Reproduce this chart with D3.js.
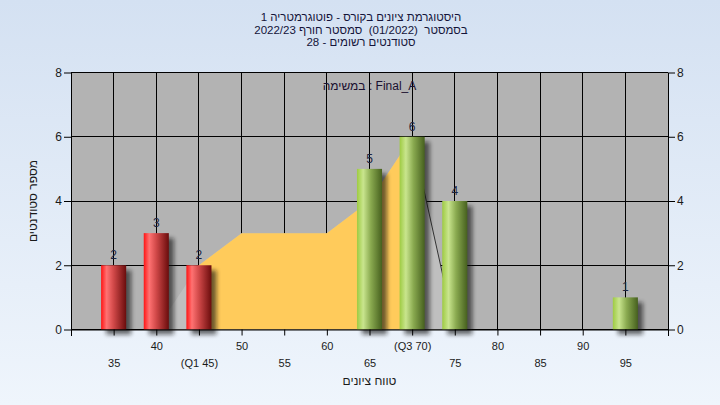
<!DOCTYPE html>
<html><head><meta charset="utf-8">
<script src="https://cdn.jsdelivr.net/npm/d3@7/dist/d3.min.js"></script>
<style>
html,body{margin:0;padding:0;background:#fff;}
svg{display:block;font-family:"Liberation Sans",Arial,"DejaVu Sans",sans-serif;}
.pre{white-space:pre;}
</style></head>
<body><svg id="chart" width="720" height="405"></svg>
<script>
// ---------- data ----------
const titleLines = [
  "היסטוגרמת ציונים בקורס - פוטוגרמטריה 1",
  "בסמסטר  (01/2022)  סמסטר חורף 2022/23",
  "סטודנטים רשומים - 28"
];
const legendText = "במשימה : Final_A";
const xTitle = "טווח ציונים";
const yTitle = "מספר סטודנטים";
const categories = [35, 40, 45, 50, 55, 60, 65, 70, 75, 80, 85, 90, 95];
const xTickLabels = ["35", "40", "(Q1 45)", "50", "55", "60", "65", "(Q3 70)", "75", "80", "85", "90", "95"];
const counts = [2, 3, 2, 0, 0, 0, 5, 6, 4, 0, 0, 0, 1];
const passGrade = 50;
const areaX = [40, 45, 50, 55, 60, 65, 70, 75];
const areaY = [0, 2, 3, 3, 3, 4, 6, 0];
const q1 = 45, q3 = 70;
const yTicks = [0, 2, 4, 6, 8];
const xDomain = [30, 100];
const yDomain = [0, 8];

// ---------- layout ----------
const W = 720, H = 405;
const L = 71, R = 668, T = 72.5, B = 329.5;
const svg = d3.select("#chart");
const defs = svg.append("defs");

const bg = defs.append("linearGradient").attr("id", "bg").attr("x1", 0).attr("y1", 0).attr("x2", 0).attr("y2", 1);
bg.append("stop").attr("offset", "0%").attr("stop-color", "#d4e1f2");
bg.append("stop").attr("offset", "100%").attr("stop-color", "#eff5fc");

const redG = defs.append("linearGradient").attr("id", "redG").attr("x1", 0).attr("x2", 1).attr("y1", 0).attr("y2", 0);
[["0%", "#ff1414"], ["22%", "#ff7272"], ["50%", "#d04848"], ["100%", "#6a0c0c"]]
  .forEach(s => redG.append("stop").attr("offset", s[0]).attr("stop-color", s[1]));
const greenG = defs.append("linearGradient").attr("id", "greenG").attr("x1", 0).attr("x2", 1).attr("y1", 0).attr("y2", 0);
[["0%", "#9ecb42"], ["25%", "#c9e58e"], ["55%", "#8aaa50"], ["100%", "#46601e"]]
  .forEach(s => greenG.append("stop").attr("offset", s[0]).attr("stop-color", s[1]));

const blur = defs.append("filter").attr("id", "shadow").attr("x", "-50%").attr("y", "-50%").attr("width", "200%").attr("height", "200%");
blur.append("feGaussianBlur").attr("stdDeviation", 2.2);

const clipOrange = defs.append("clipPath").attr("id", "clipOrange");

svg.append("rect").attr("width", W).attr("height", H).attr("fill", "url(#bg)");

const x = d3.scaleLinear().domain(xDomain).range([L, R]);
const y = d3.scaleLinear().domain(yDomain).range([B, T]);

// plot background
svg.append("rect").attr("x", L).attr("y", T).attr("width", R - L).attr("height", B - T).attr("fill", "#b3b3b3");

// grid
const grid = svg.append("g").attr("stroke", "#000").attr("stroke-width", 1).attr("shape-rendering", "crispEdges");
d3.range(xDomain[0], xDomain[1] + 1, 5).forEach(v => {
  grid.append("line").attr("x1", x(v)).attr("x2", x(v)).attr("y1", T).attr("y2", B);
});
yTicks.forEach(v => {
  grid.append("line").attr("x1", L).attr("x2", R).attr("y1", y(v)).attr("y2", y(v));
});

// area
const pts = areaX.map((v, i) => [v, areaY[i]]);
const area = d3.area().x(d => x(d[0])).y0(y(0)).y1(d => y(d[1]));
svg.append("path").datum(pts).attr("d", area).attr("fill", "#bfbfbf");
clipOrange.append("rect").attr("x", x(q1)).attr("y", T).attr("width", x(q3) - x(q1)).attr("height", B - T);
svg.append("path").datum(pts).attr("d", area).attr("fill", "#ffcb5b").attr("clip-path", "url(#clipOrange)");
const lastSeg = pts.filter(d => d[0] >= q3);
svg.append("path").datum(lastSeg).attr("d", d3.line().x(d => x(d[0])).y(d => y(d[1])))
  .attr("fill", "none").attr("stroke", "#333").attr("stroke-width", 1);

// bars
const barData = categories.map((c, i) => ({ c, v: counts[i] })).filter(d => d.v > 0);
const bw = x(categories[0] + 1.47) - x(categories[0] - 1.47);
const bars = svg.append("g");
bars.selectAll(".sh").data(barData).join("rect")
  .attr("x", d => x(d.c) - bw / 2 + 5).attr("y", d => y(d.v) + 5)
  .attr("width", bw).attr("height", d => y(0) - y(d.v))
  .attr("fill", "#111").attr("opacity", 0.6).attr("filter", "url(#shadow)");
bars.selectAll(".bar").data(barData).join("rect")
  .attr("x", d => x(d.c) - bw / 2).attr("y", d => y(d.v))
  .attr("width", bw).attr("height", d => y(0) - y(d.v))
  .attr("fill", d => d.c < passGrade ? "url(#redG)" : "url(#greenG)");
bars.selectAll(".lbl").data(barData).join("text")
  .attr("x", d => x(d.c)).attr("y", d => y(d.v) - 6)
  .attr("text-anchor", "middle").attr("font-size", 12).attr("fill", "#1c2440")
  .text(d => d.v);

// axes
const axisStyle = g => {
  g.selectAll("path.domain").attr("stroke", "#000");
  g.selectAll(".tick line").attr("stroke", "#000");
  g.selectAll("text").attr("font-size", 12).attr("fill", "#1a1a1a").attr("font-family", "'Liberation Sans',Arial,sans-serif");
};
svg.append("g").attr("transform", `translate(${L},0)`)
  .call(d3.axisLeft(y).tickValues(yTicks).tickSize(7).tickSizeOuter(0).tickPadding(2))
  .call(axisStyle);
svg.append("g").attr("transform", `translate(${R},0)`)
  .call(d3.axisRight(y).tickValues(yTicks).tickSize(7).tickSizeOuter(0).tickPadding(2))
  .call(axisStyle);
const xa = svg.append("g").attr("transform", `translate(0,${B})`)
  .call(d3.axisBottom(x).tickValues(categories).tickSize(6).tickSizeOuter(6)
    .tickFormat((d, i) => xTickLabels[i]))
  .call(axisStyle);
xa.selectAll(".tick text").attr("font-size", 11).attr("dy", null)
  .attr("y", (d, i) => i % 2 === 0 ? 37 : 20);
svg.append("g").attr("stroke", "#000").attr("shape-rendering", "crispEdges")
  .selectAll("line").data([L, R]).join("line")
  .attr("x1", d => d).attr("x2", d => d).attr("y1", B).attr("y2", B + 6);

// titles
svg.append("g").selectAll("text").data(titleLines).join("text")
  .attr("class", "pre")
  .attr("x", 361).attr("y", (d, i) => 21 + i * 12.6)
  .attr("text-anchor", "middle").attr("font-size", 11.5).attr("fill", "#14143a")
  .text(d => d);

svg.append("text").attr("x", (L + R) / 2).attr("y", 90).attr("text-anchor", "middle")
  .attr("direction", "ltr").attr("font-size", 12).attr("fill", "#1a1030").text(legendText);

svg.append("text").attr("x", (L + R) / 2).attr("y", 385).attr("text-anchor", "middle")
  .attr("font-size", 12).attr("fill", "#1a1a1a").text(xTitle);

svg.append("text").attr("transform", `translate(37,${(T + B) / 2}) rotate(-90)`)
  .attr("text-anchor", "middle").attr("font-size", 12).attr("fill", "#1a1a1a").text(yTitle);
</script></body></html>
